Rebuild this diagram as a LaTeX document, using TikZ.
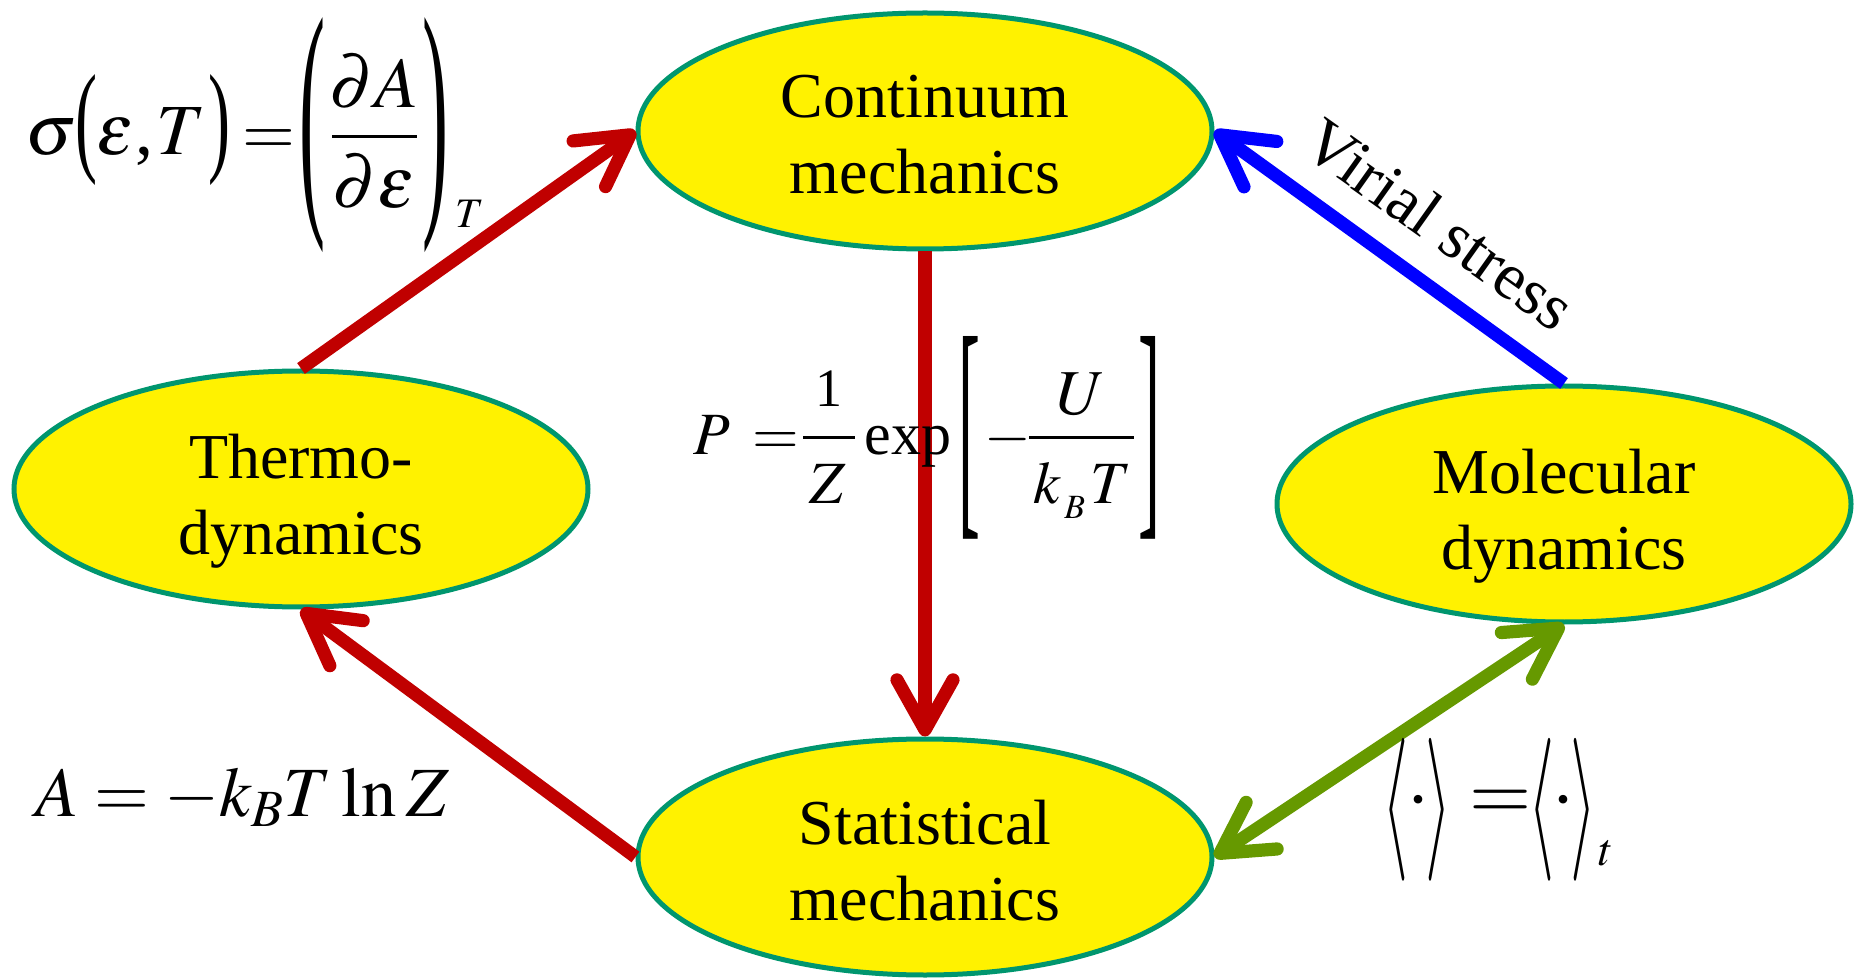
\documentclass[tikz,border=0pt]{standalone}
\usepackage{amsmath}
\usepackage{mathptmx}
\usepackage{graphicx}
\usepackage{fontspec}
\setmainfont{Liberation Serif}
\usetikzlibrary{shapes.geometric,arrows.meta}
\definecolor{ellborder}{RGB}{0,150,110}
\definecolor{arrred}{RGB}{192,0,0}
\definecolor{arrblue}{RGB}{0,0,255}
\definecolor{arrgreen}{RGB}{102,153,0}
\tikzset{
  bubble/.style={ellipse, draw=ellborder, line width=2.5pt, fill=yellow,
    minimum width=287pt, minimum height=118pt, inner sep=0pt},
  bubtext/.style={align=center, inner sep=0pt, font=\fontsize{32}{38}\selectfont},
  barb/.tip={Straight Barb[length=25pt,width=28pt,round]},
  conn/.style={line width=6.6pt, -barb},
  dconn/.style={line width=6.6pt, barb-barb},
  fs/.style={font=\fontsize{#1}{#1}\selectfont},
  pb/.style={inner sep=0pt, anchor=base west},
  pc/.style={inner sep=0pt, anchor=center},
  fracbar/.style={line width=1.5pt},
  lbl/.style={font=\fontsize{33}{38}\selectfont, inner sep=0pt}
}
\begin{document}
\begin{tikzpicture}[x=0.5pt,y=-0.5pt]
\useasboundingbox (0,0) rectangle (1864,978);
\node[bubble] (co) at (925,131) {};
\node[bubble] (th) at (301,489) {};
\node[bubble] (md) at (1564,504) {};
\node[bubble] (st) at (925,857) {};
\node[bubtext, yshift=-2pt] (cot) at (co) {Continuum\\mechanics};
\node[bubtext, yshift=-6pt] (tht) at (th) {Thermo-\\dynamics};
\node[bubtext, yshift=-6pt] (mdt) at (md) {Molecular\\dynamics};
\node[bubtext, yshift=-2pt] (stt) at (st) {Statistical\\mechanics};
\draw[conn, arrred] (th.north) -- (co.west);
\draw[conn, arrred] (co.south) -- (st.north);
\draw[conn, arrred] (st.west) -- (th.south);
\draw[conn, arrblue] (md.north) -- (co.east);
\draw[dconn, arrgreen] (md.south) -- (st.east);
% sigma(eps,T) = (dA/deps)_T
\node[pb, fs=36] (s1) at (25,155) {$\sigma$};
\node[pc] (s2) at (86.5,130.5) {\resizebox{11pt}{42.5pt}{(}};
\node[pb, fs=36] (s3) at (96,155) {$\varepsilon$};
\node[pb, fs=36] (s4) at (135,155) {,};
\node[pb, fs=36] (s5) at (156,155) {$T$};
\node[pc] (s6) at (219,130.5) {\resizebox{11pt}{42.5pt}{)}};
\node[pb, fs=34] (s7) at (242,155) {$=$};
\node[pc] (s8) at (312.5,135) {\resizebox{13pt}{90pt}{(}};
\node[pb, fs=36, anchor=base] (s9) at (374,108) {$\partial A$};
\draw[fracbar] (332,137) -- (417,137);
\node[pb, fs=36, anchor=base] (s10) at (374,208) {$\partial\varepsilon$};
\node[pc] (s11) at (435,135) {\resizebox{13pt}{90pt}{)}};
\node[pb, fs=21] (s12) at (455,228) {$T$};
% P = 1/Z exp[-U/(k_B T)]
\node[pb, fs=30] (p1) at (693,455) {$P$};
\node[pb, fs=30] (p2) at (752,455) {$=$};
\node[pb, fs=27, anchor=base] (p3) at (829,407) {1};
\draw[fracbar] (803,438) -- (855,438);
\node[pb, fs=30, anchor=base] (p4) at (828,503) {$Z$};
\node[pb, fs=30] (p5) at (864,455) {exp};
\node[pc] (p6) at (969,438) {\resizebox{11pt}{85pt}{[}};
\node[pb, fs=30] (p7) at (984,455) {$-$};
\node[pb, fs=32, anchor=base] (p8) at (1081,415) {$U$};
\draw[fracbar] (1029,438) -- (1134,438);
\node[pb, fs=30] (p9) at (1033,503) {$k$};
\node[pb, fs=17] (p10) at (1064,518) {$B$};
\node[pb, fs=30] (p11) at (1090,503) {$T$};
\node[pc] (p12) at (1149,438) {\resizebox{11pt}{85pt}{]}};
% A = -k_B T ln Z
\node[pb, fs=40] (az) at (35,816)
  {\resizebox{207pt}{!}{$\thickmuskip=4mu\medmuskip=3mu\thinmuskip=2.5mu A=-k_BT\ln Z$}};
% <.> = <.>_t
\node[pc] (v1) at (1395,810) {\resizebox{13pt}{53pt}{$\langle$}};
\node[pc, fs=36] (v2) at (1418,809) {·};
\node[pc] (v3) at (1438,810) {\resizebox{13pt}{53pt}{$\rangle$}};
\node[pb, fs=40] (v4) at (1469,819) {$=$};
\node[pc] (v5) at (1541,810) {\resizebox{13pt}{53pt}{$\langle$}};
\node[pc, fs=36] (v6) at (1563,809) {·};
\node[pc] (v7) at (1583,810) {\resizebox{13pt}{53pt}{$\rangle$}};
\node[pb, fs=23] (v8) at (1598,865) {$t$};
\node[lbl, rotate=-35.4] (vs) at (1440,224) {Virial stress};
\end{tikzpicture}
\end{document}
